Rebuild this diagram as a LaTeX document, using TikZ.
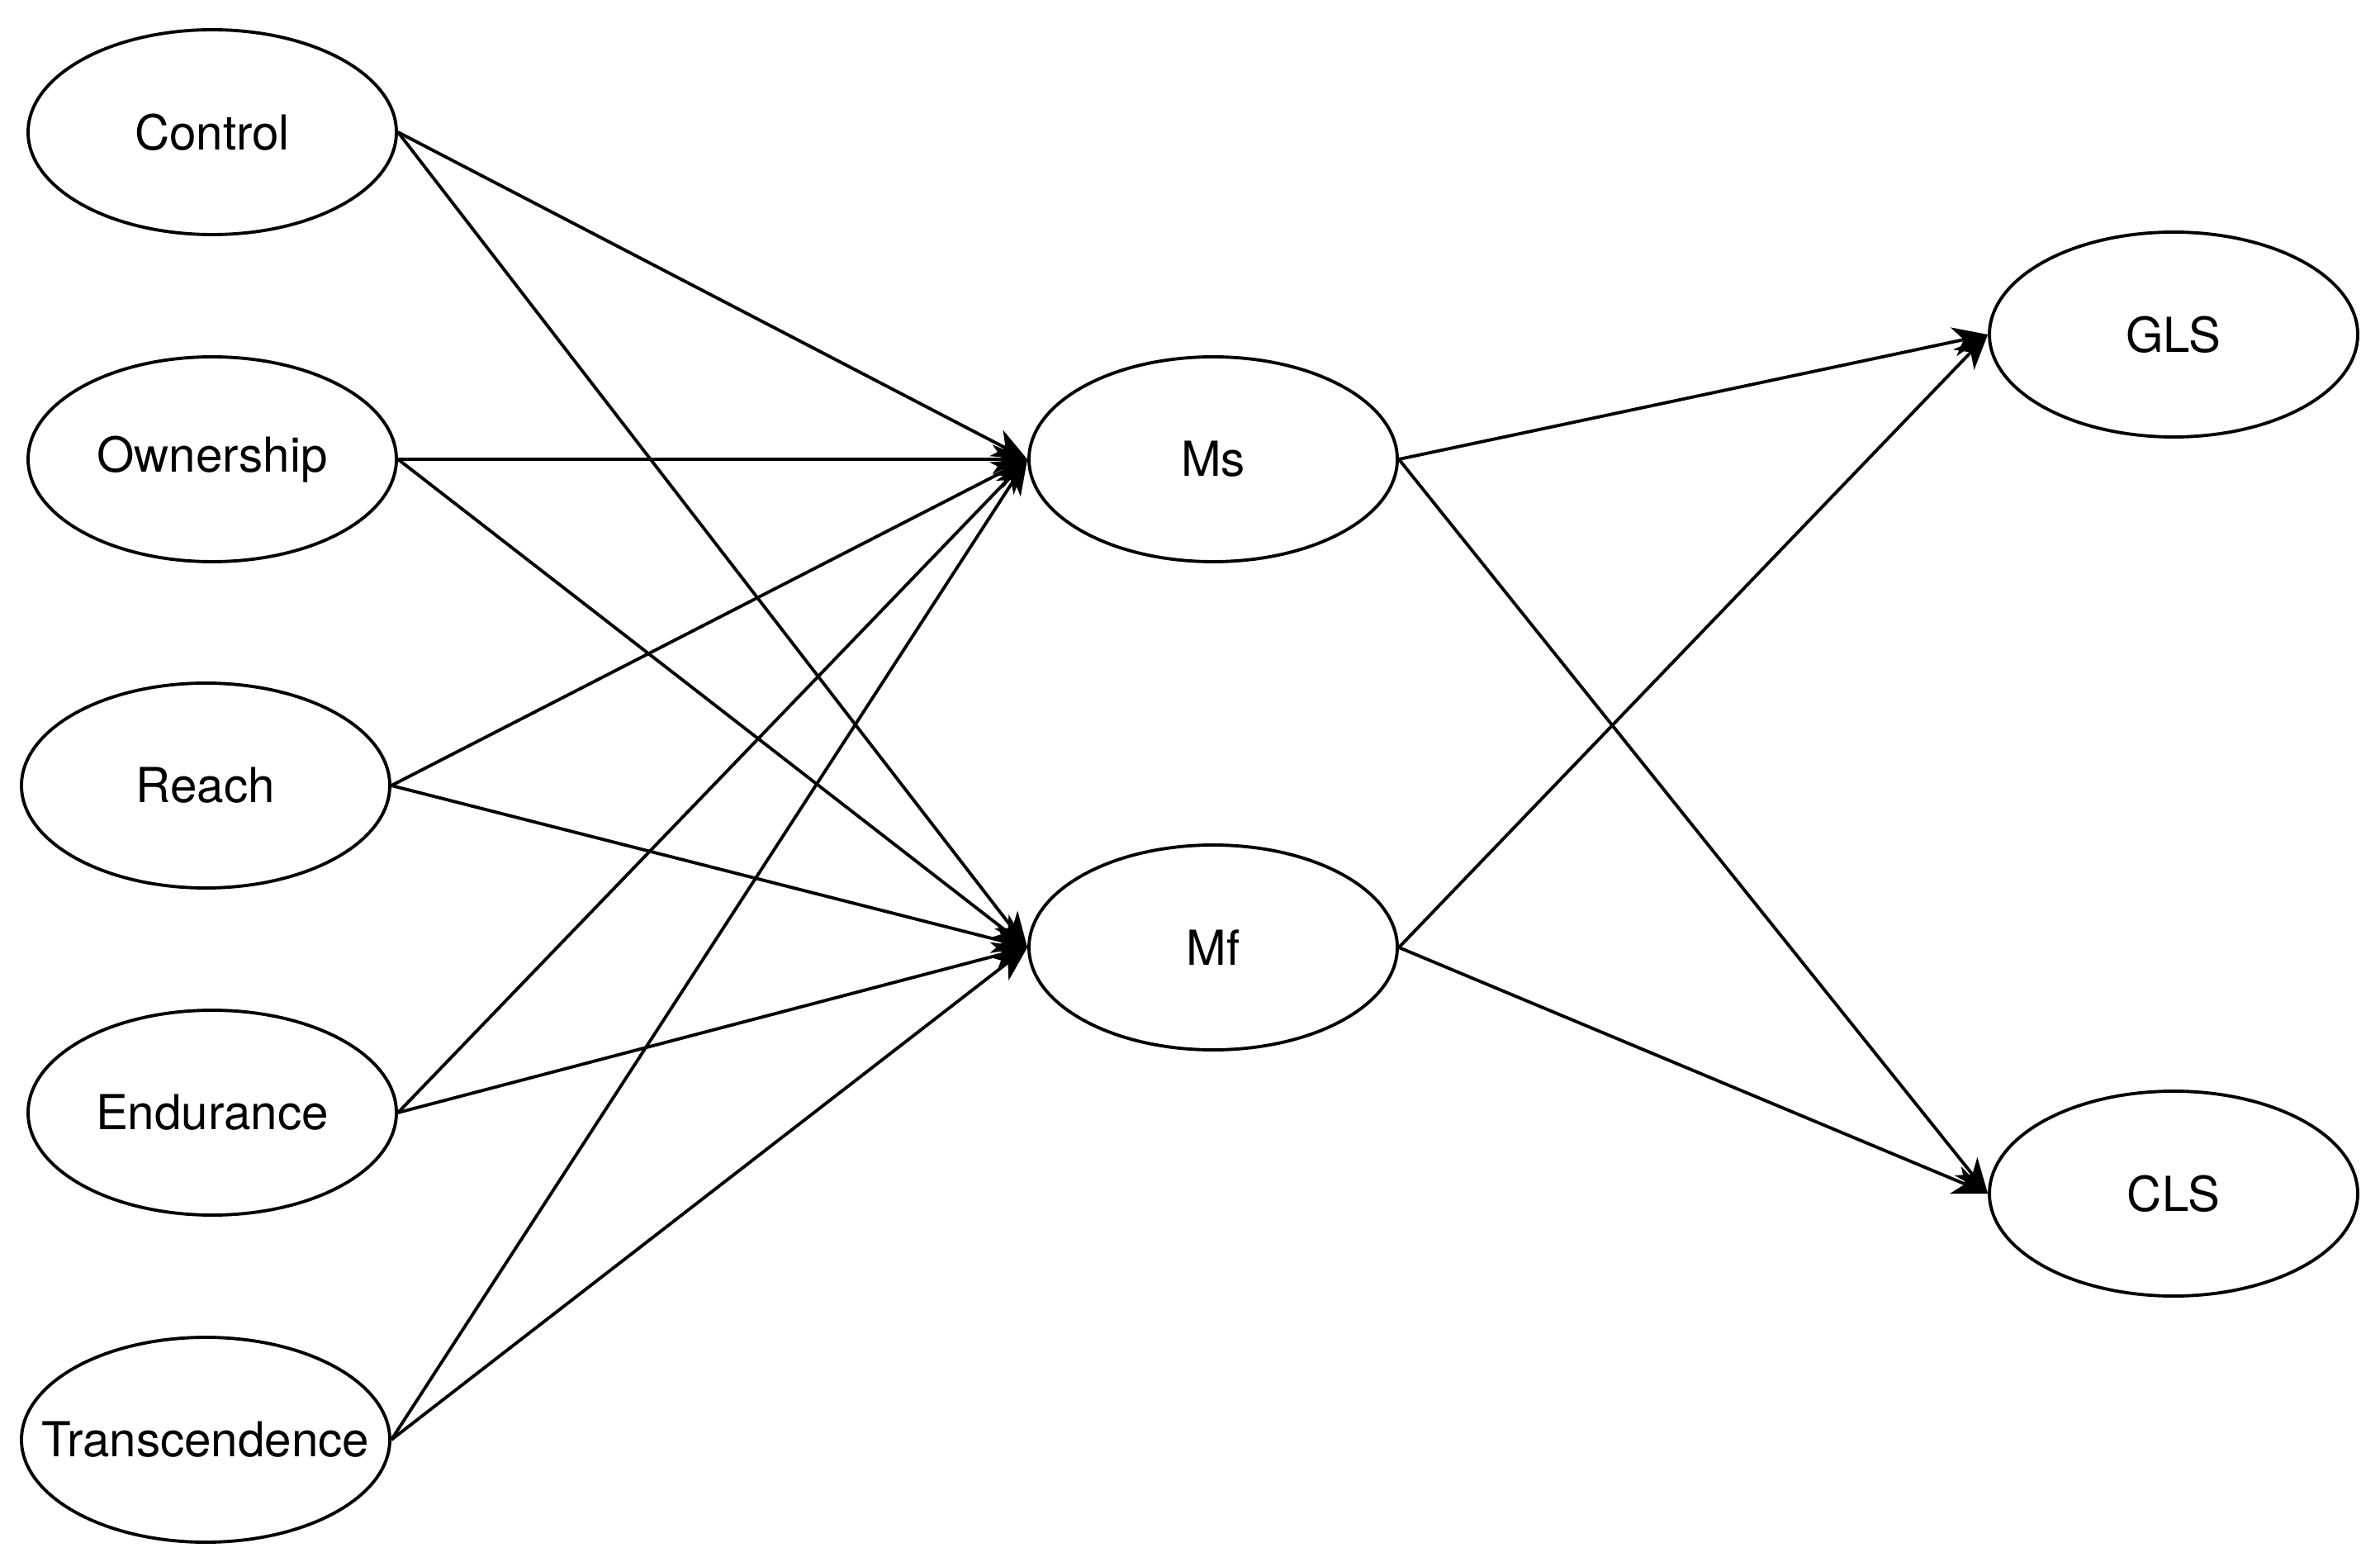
\documentclass[tikz,border=0pt]{standalone}
\usepackage{fontspec}
\setmainfont{TeX Gyre Heros}
\usetikzlibrary{arrows.meta,shapes.geometric}
\colorlet{lcol}{black}
\tikzstyle{latent}=[ellipse, draw=lcol, line width=1.1pt, fill=white, inner sep=0pt, minimum width=4.46cm, minimum height=2.48cm, font=\fontsize{16.6}{20}\selectfont]
\tikzstyle{link}=[draw, line width=1.1pt,lcol,-{Stealth[length=12pt,width=10pt,inset=3.5pt]}]

\begin{document}
\begin{tikzpicture}
		\useasboundingbox (0,0) rectangle (28.82,18.90);
		\node[latent] (ctrl) at (2.57,17.30) {Control};
		\node[latent] (own) at (2.57,13.34) {Ownership};
		\node[latent] (reach) at (2.49,9.39) {Reach};
		\node[latent] (endu) at (2.57,5.43) {Endurance};
		\node[latent] (trans) at (2.49,1.47) {\makebox[0pt]{Transcendence}};
		\node[latent] (ms) at (14.69,13.34) {Ms};
		\node[latent] (mf) at (14.69,7.43) {Mf};
		\node[latent] (gls) at (26.32,14.85) {GLS};
		\node[latent] (cls) at (26.32,4.45) {CLS};
		\path[every edge/.style={link}] (ctrl.east)edge(ms.west) (own.east)edge(ms.west) (reach.east)edge(ms.west) (endu.east)edge(ms.west) (trans.east)edge(ms.west);
		\path[every edge/.style={link}] (ctrl.east)edge(mf.west) (own.east)edge(mf.west) (reach.east)edge(mf.west) (endu.east)edge(mf.west) (trans.east)edge(mf.west);
		\path[every edge/.style={link}] (ms.east)edge(gls.west) (ms.east)edge(cls.west) (mf.east)edge(gls.west) (mf.east)edge(cls.west);
	\end{tikzpicture}
\end{document}
